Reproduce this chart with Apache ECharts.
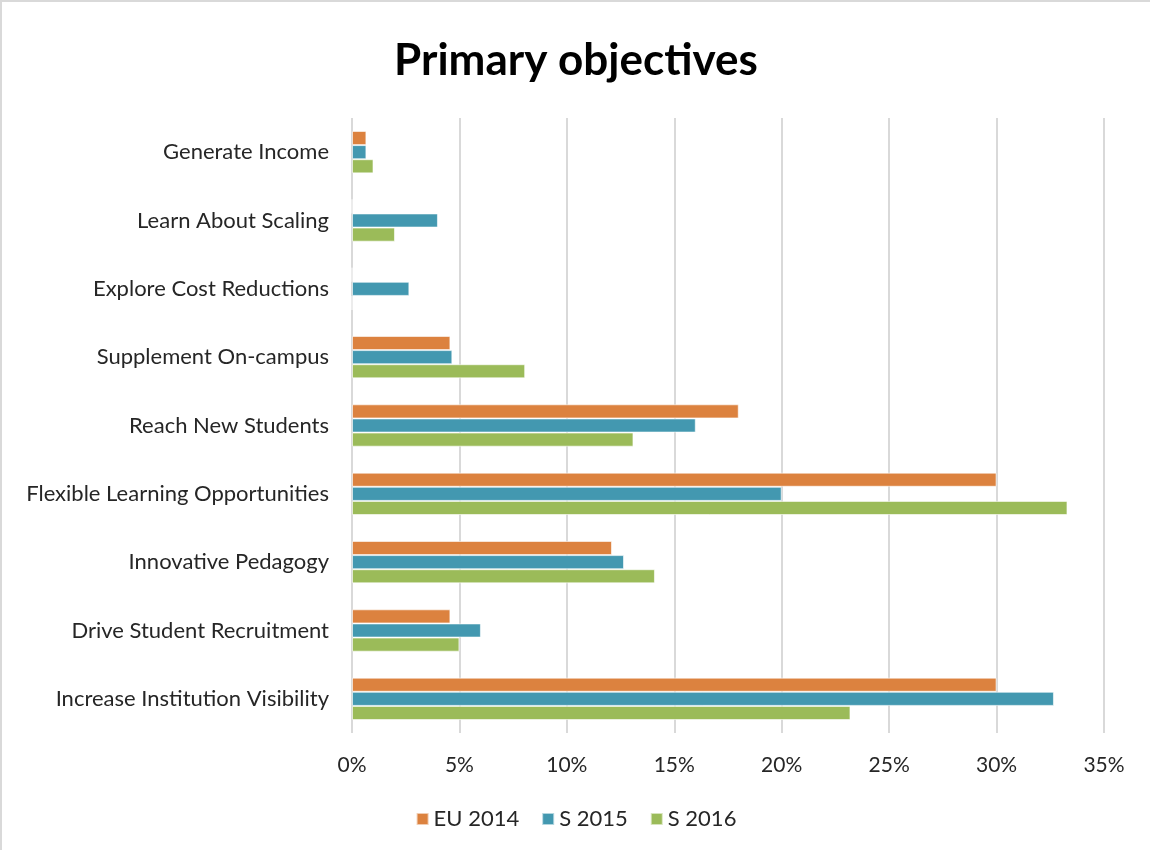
<!DOCTYPE html>
<html>
<head>
<meta charset="utf-8">
<script src="https://cdn.jsdelivr.net/npm/echarts@6/dist/echarts.min.js"></script>
<style>
  html, body { margin: 0; padding: 0; background: #fff; }
  #chart { width: 1150px; height: 850px; box-sizing: border-box; border-top: 2px solid #d9d9d9; border-left: 2px solid #d9d9d9; }
</style>
</head>
<body>
<div id="chart"></div>
<script>
// categories listed top to bottom as in the picture
const categories = [
  'Generate Income',
  'Learn About Scaling',
  'Explore Cost Reductions',
  'Supplement On-campus',
  'Reach New Students',
  'Flexible Learning Opportunities',
  'Innovative Pedagogy',
  'Drive Student Recruitment',
  'Increase Institution Visibility'
];

const seriesNames = ['EU 2014', 'S 2015', 'S 2016'];

// values in percent
const eu2014 = [0.67, 0, 0, 4.58, 18.0, 30.0, 12.1, 4.58, 30.0];
const s2015 = [0.67, 4.0, 2.67, 4.67, 16.0, 20.0, 12.66, 6.0, 32.67];
const s2016 = [1.0, 2.0, 0, 8.06, 13.1, 33.3, 14.1, 5.0, 23.2];

const xTicks = [0, 5, 10, 15, 20, 25, 30, 35];

const colors = ['#DC823F', '#4398B0', '#9BBB59'];
const font = 'Lato, "Open Sans", sans-serif';
const textColor = '#262626';

const chart = echarts.init(document.getElementById('chart'));

const makeSeries = (name, data, color) => ({
  name,
  type: 'bar',
  data,
  barGap: '0%',
  barCategoryGap: '38%',
  itemStyle: {
    color,
    borderColor: 'rgba(255,255,255,0.6)',
    borderWidth: 1
  }
});

const option = {
  animation: false,
  textStyle: { fontFamily: font },
  title: {
    text: 'Primary objectives',
    left: 'center',
    top: 32,
    textStyle: {
      fontFamily: font,
      fontSize: 44,
      fontWeight: 'bold',
      color: '#000'
    }
  },
  legend: {
    data: seriesNames,
    top: 801,
    left: 'center',
    icon: 'rect',
    itemWidth: 12,
    itemHeight: 12,
    itemGap: 22,
    textStyle: { fontFamily: font, fontSize: 22, color: textColor }
  },
  grid: {
    left: 350,
    right: 46,
    top: 116,
    bottom: 117,
    containLabel: false
  },
  xAxis: {
    type: 'value',
    min: xTicks[0],
    max: xTicks[xTicks.length - 1],
    interval: 5,
    axisLine: { show: false },
    axisTick: { show: false },
    axisLabel: {
      margin: 22,
      fontSize: 21,
      color: textColor,
      fontFamily: font,
      formatter: v => v + '%'
    },
    splitLine: { show: true, lineStyle: { color: '#d9d9d9', width: 2 } }
  },
  yAxis: {
    type: 'category',
    data: categories,
    inverse: true,
    axisLine: { show: false },
    axisTick: { show: false },
    axisLabel: {
      margin: 23,
      fontSize: 22,
      color: textColor,
      fontFamily: font
    }
  },
  series: [
    makeSeries(seriesNames[0], eu2014, colors[0]),
    makeSeries(seriesNames[1], s2015, colors[1]),
    makeSeries(seriesNames[2], s2016, colors[2])
  ]
};

chart.setOption(option);
</script>
</body>
</html>
